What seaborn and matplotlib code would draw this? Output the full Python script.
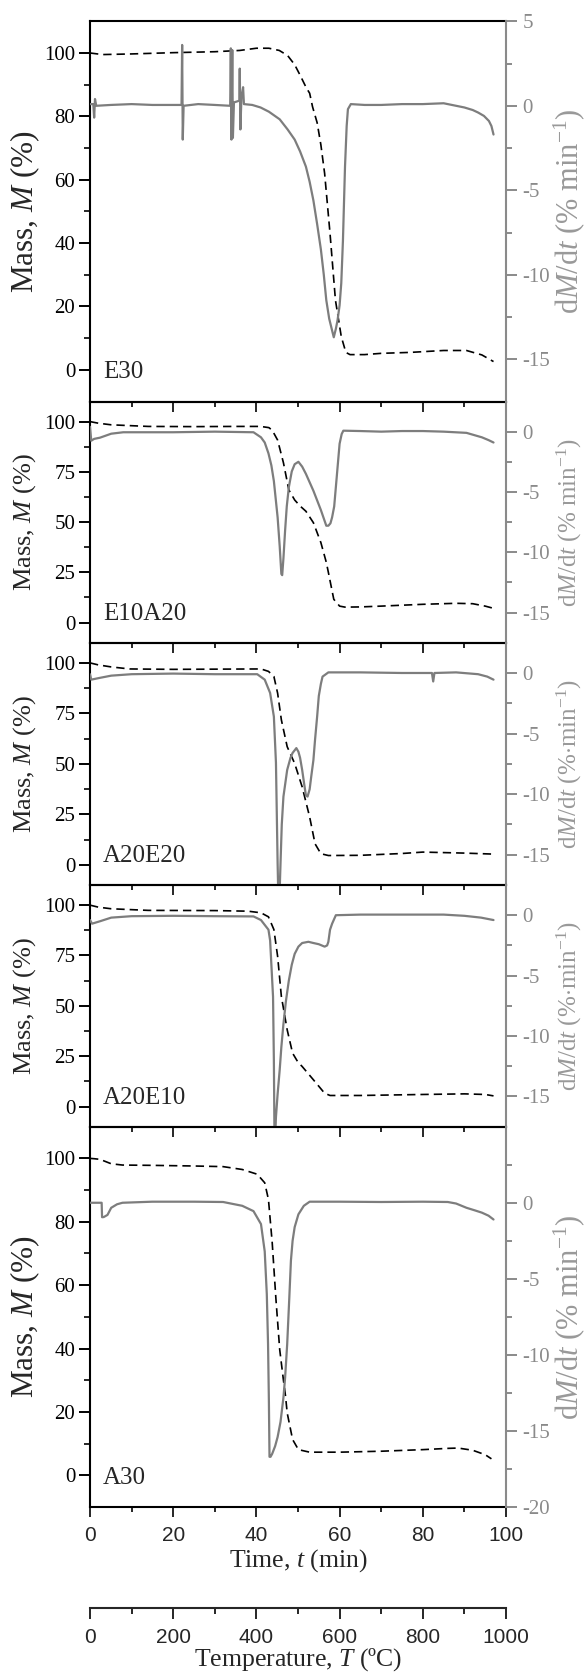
#importa as bibliotecas de graficos
import numpy as np
import pandas as pd
import seaborn as sns
import matplotlib.pyplot as plt
from matplotlib.ticker import FixedLocator, MultipleLocator

# nomes das amostras
samples = ["E30", "E10A20", "A20E20", "A20E10", "A30"]

# E30 - massa (%) e taxa (%/min)
t_mass_E30 = [0, 3, 10, 20, 30, 36, 40, 43, 45.5, 47.5, 49.2, 50.5, 52, 52.8, 53.5, 54.6,
              55.5, 56.4, 57.7, 59, 60.4, 61.5, 62.5, 66, 70, 77, 85, 90.5, 94.2, 97]
mass_E30 = [100, 99.5, 99.7, 100.1, 100.4, 100.8, 101.5, 101.5, 100.8, 99.2, 96.3, 93, 89,
            87.3, 83, 78, 71, 62, 43, 22, 10.5, 5.5, 4.8, 4.8, 5.2, 5.5, 6.1, 6.1, 4.7, 2.6]
t_rate_E30 = [0, 0.8, 1.0, 1.2, 1.5, 5, 10, 15, 20, 22.0, 22.15, 22.3, 22.5, 26, 30, 33.7,
              33.85, 34.0, 34.2, 34.35, 34.6, 35.9, 36.0, 36.15, 36.4, 36.8, 37.0, 39, 41, 43,
              45.6, 47.5, 49.2, 50.5, 51.9, 52.8, 53.7, 54.6, 55.5, 56.2, 56.8, 57.5, 58.2,
              58.6, 59.1, 59.5, 60.0, 60.4, 60.8, 61.3, 61.7, 62.0, 62.7, 66, 70, 75, 80, 85,
              88, 90, 92, 93.3, 94.7, 95.9, 96.5, 97]
rate_E30 = [0.1, 0.1, -0.7, 0.4, 0.0, 0.05, 0.1, 0.05, 0.05, 0.05, 3.6, -2.0, 0.0, 0.1, 0.05,
            0.0, 3.4, -2.0, 3.3, -1.9, 0.2, 0.3, 2.2, -1.4, 0.5, 1.1, 0.1, 0.05, -0.1, -0.35,
            -0.8, -1.4, -2.0, -2.7, -3.6, -4.5, -5.6, -7.0, -8.5, -10.0, -11.5, -12.6, -13.3,
            -13.7, -13.2, -12.7, -11.8, -10.5, -8.0, -3.6, -1.2, -0.2, 0.1, 0.05, 0.05, 0.1,
            0.1, 0.15, 0.0, -0.1, -0.25, -0.4, -0.6, -0.9, -1.2, -1.7]

# E10A20
t_mass_E10A20 = [0, 2, 5.1, 14, 25, 35, 41, 43, 43.8, 45.1, 46.5, 47.8, 49.2, 50.5, 51.9,
                 53.7, 55.5, 56.8, 57.3, 58.6, 60, 61.3, 65, 70, 80, 88, 92, 95, 97]
mass_E10A20 = [100, 99.2, 98.4, 97.6, 97.5, 97.6, 97.6, 97.0, 95.7, 90.8, 79.5, 66, 61, 58,
               55.4, 49.7, 39.8, 30, 25, 11.6, 8.2, 7.7, 7.8, 8.2, 9.1, 9.6, 9.4, 8.2, 7.1]
t_rate_E10A20 = [0, 0.3, 1.0, 2.4, 5.1, 8, 20, 30, 39.3, 41.1, 42.0, 42.9, 43.6, 44.2, 45.1,
                 45.6, 46.0, 46.2, 46.5, 46.9, 47.3, 47.8, 48.5, 49.2, 50.1, 51.0, 51.9, 52.8,
                 53.7, 54.6, 55.5, 56.2, 56.8, 57.3, 57.8, 58.2, 58.7, 59.1, 59.6, 60.0, 60.5,
                 60.9, 65, 70, 75, 80, 85, 90.5, 92.5, 94.2, 95.8, 97]
rate_E10A20 = [0.4, -0.75, -0.6, -0.5, -0.17, -0.05, -0.05, 0.0, -0.05, -0.47, -0.9, -1.8,
               -2.8, -4.1, -7.1, -9.5, -11.8, -11.9, -10.5, -8.2, -6.2, -4.6, -3.3, -2.7,
               -2.5, -2.9, -3.5, -4.2, -4.9, -5.7, -6.5, -7.2, -7.8, -7.8, -7.6, -7.1, -6.2,
               -4.6, -2.6, -1.0, -0.2, 0.08, 0.05, 0.0, 0.05, 0.05, 0.0, -0.1, -0.3, -0.47,
               -0.7, -0.9]

# A20E20
t_mass_A20E20 = [0, 2, 5.1, 9.5, 20, 30, 41.1, 42.9, 44.2, 45.1, 46, 47.4, 49.2, 51, 52.8,
                 54.1, 55.5, 57.3, 65, 75, 80, 90, 97]
mass_A20E20 = [100, 99, 98, 97, 96.8, 96.9, 97, 95.8, 93.3, 85, 71.8, 58.5, 50.2, 38.6, 23.7,
               10.4, 5.5, 4.6, 4.7, 5.6, 6.3, 5.8, 5.3]
t_rate_A20E20 = [0, 0.3, 2.4, 5.1, 10, 20, 30, 40.2, 42.0, 43.3, 44.2, 44.7, 45.1, 45.3, 45.5,
                 45.8, 46.1, 46.5, 47.4, 48.2, 48.7, 49.6, 50.1, 50.5, 51.0, 51.5, 51.9, 52.3,
                 52.8, 53.2, 53.7, 54.1, 54.6, 55.0, 55.5, 55.9, 57.3, 65, 75, 82.2, 82.5, 82.8,
                 88, 93.3, 95.5, 97]
rate_A20E20 = [-0.1, -0.55, -0.4, -0.22, -0.1, -0.05, -0.1, -0.1, -0.55, -1.65, -3.6, -7.4,
               -15.7, -19.0, -19.0, -15.7, -12.5, -10.2, -8.0, -7.0, -6.6, -6.2, -6.5, -7.0,
               -8.0, -9.2, -10.1, -10.2, -9.6, -8.5, -7.2, -5.5, -3.6, -1.9, -0.9, -0.3, 0.05,
               0.05, 0.0, 0.0, -0.7, 0.0, 0.05, -0.1, -0.3, -0.55]

# A20E10
t_mass_A20E10 = [0, 2, 5.1, 14, 30, 38, 41.1, 42.9, 44.2, 45.1, 46, 47.4, 48.7, 50, 51, 53.7,
                 56.4, 57.7, 65, 80, 90, 95, 97]
mass_A20E10 = [100, 99, 98.2, 97.4, 97.3, 97.0, 96.2, 94.2, 87.9, 74.6, 54.7, 38.1, 26.5, 22,
               19.9, 13.3, 6.6, 5.5, 5.5, 6.0, 6.3, 6.0, 5.3]
t_rate_A20E10 = [0, 0.5, 2.4, 5.1, 10, 20, 30, 39.3, 41.1, 42.9, 43.3, 44.0, 44.2, 44.35, 44.5,
                 44.7, 45.1, 45.6, 46.0, 46.5, 47.1, 47.8, 48.5, 49.2, 50.1, 51.0, 52.5, 53.7,
                 55, 56.4, 57.0, 57.3, 57.7, 58.2, 59.1, 65, 75, 85, 90, 94, 97]
rate_A20E10 = [-0.4, -0.7, -0.5, -0.2, -0.08, -0.05, -0.08, -0.1, -0.4, -1.2, -2.1, -6.75,
               -12.0, -18.5, -18.5, -16.7, -14.8, -12.8, -10.9, -9.0, -7.1, -5.4, -4.1, -3.2,
               -2.6, -2.3, -2.2, -2.3, -2.4, -2.6, -2.5, -2.2, -1.2, -0.7, 0.0, 0.05, 0.05,
               0.05, -0.05, -0.2, -0.4]

# A30
t_mass_A30 = [0, 1, 2.4, 5.1, 7.8, 15, 25, 32, 36.6, 40.2, 42, 42.9, 43.8, 44.7, 45.6, 46.5,
              47.0, 47.4, 48.7, 50.1, 52.8, 60, 70, 80, 86, 88.5, 92, 95, 96.5]
mass_A30 = [100, 99.9, 99.7, 98.3, 97.9, 97.8, 97.6, 97.4, 96.5, 95, 92.3, 87, 73.4, 55.5,
            39.7, 30, 25, 19.7, 11.3, 8.1, 7.3, 7.3, 7.6, 8.1, 8.5, 8.6, 7.9, 6.5, 5.2]
t_rate_A30 = [0, 2.8, 2.9, 3.3, 4.2, 5.1, 6.5, 7.8, 15, 25, 32, 36.6, 39.3, 41.1, 42.0, 42.5,
              42.8, 43.0, 43.15, 43.4, 43.8, 44.5, 45.1, 45.8, 46.5, 46.9, 47.4, 47.9, 48.3,
              48.7, 49.2, 50.1, 51.4, 52.8, 60, 70, 80, 86, 88, 90.5, 92.5, 94.2, 95.8, 97]
rate_A30 = [0.0, 0.0, -0.95, -0.94, -0.8, -0.33, -0.1, 0.0, 0.07, 0.07, 0.05, -0.2, -0.55,
            -1.4, -3.2, -6.0, -9.3, -13.0, -16.7, -16.7, -16.5, -16.0, -15.4, -14.4, -12.8,
            -11.5, -9.3, -6.3, -3.8, -2.5, -1.6, -0.76, -0.2, 0.07, 0.07, 0.05, 0.07, 0.05,
            -0.05, -0.33, -0.5, -0.65, -0.85, -1.1]

mass_t = [t_mass_E30, t_mass_E10A20, t_mass_A20E20, t_mass_A20E10, t_mass_A30]
mass_v = [mass_E30, mass_E10A20, mass_A20E20, mass_A20E10, mass_A30]
rate_t = [t_rate_E30, t_rate_E10A20, t_rate_A20E20, t_rate_A20E10, t_rate_A30]
rate_v = [rate_E30, rate_E10A20, rate_A20E20, rate_A20E10, rate_A30]

# rotulos do eixo direito
rate_labels = [r"d$M$/d$t$ (% min$^{-1}$)", r"d$M$/d$t$ (% min$^{-1}$)",
               r"d$M$/d$t$ (%$\cdot$min$^{-1}$)", r"d$M$/d$t$ (%$\cdot$min$^{-1}$)",
               r"d$M$/d$t$ (% min$^{-1}$)"]

# estilo
sns.set_style("ticks")
plt.rcParams['font.family'] = ['Liberation Serif', 'DejaVu Serif']
plt.rcParams['mathtext.fontset'] = 'custom'
plt.rcParams['mathtext.rm'] = 'Liberation Serif'
plt.rcParams['mathtext.it'] = 'Liberation Serif:italic'
plt.rcParams['axes.unicode_minus'] = False

gray = '#7d7d7d'
gray_ax = '#8a8a8a'
W, H = 585, 1673
fig = plt.figure(figsize=(W / 100, H / 100), dpi=100)
fig.patch.set_facecolor('white')

left, width = 90 / W, 416 / W
edges = [21.3, 401.5, 642.7, 885, 1126.7, 1507]

for i, name in enumerate(samples):
    top, bot = edges[i], edges[i + 1]
    big = i in (0, 4)
    ax = fig.add_axes([left, 1 - bot / H, width, (bot - top) / H])
    ax.patch.set_visible(False)
    ax2 = ax.twinx()

    # massa (tracejada)
    sns.lineplot(x=mass_t[i], y=mass_v[i], ax=ax, color='black', lw=1.2,
                 linestyle=(0, (5, 3)), estimator=None, sort=False)
    # taxa de perda de massa (cinza)
    sns.lineplot(x=rate_t[i], y=rate_v[i], ax=ax2, color=gray, lw=1.6,
                 estimator=None, sort=False)

    ax.set_xlim(0, 100)
    ax.set_ylim(-10, 110)
    if big:
        ax.yaxis.set_major_locator(FixedLocator([0, 20, 40, 60, 80, 100]))
        ax.yaxis.set_minor_locator(FixedLocator([10, 30, 50, 70, 90]))
    else:
        ax.yaxis.set_major_locator(FixedLocator([0, 25, 50, 75, 100]))
        ax.yaxis.set_minor_locator(FixedLocator([12.5, 37.5, 62.5, 87.5]))
    ax.xaxis.set_major_locator(MultipleLocator(20))
    ax.xaxis.set_minor_locator(MultipleLocator(10))

    if i == 0:
        ax2.set_ylim(-17.5, 5)
        ax2.yaxis.set_major_locator(FixedLocator([-15, -10, -5, 0, 5]))
        ax2.yaxis.set_minor_locator(FixedLocator([-12.5, -7.5, -2.5, 2.5]))
    elif i == 4:
        ax2.set_ylim(-20, 5)
        ax2.yaxis.set_major_locator(FixedLocator([-20, -15, -10, -5, 0]))
        ax2.yaxis.set_minor_locator(FixedLocator([-17.5, -12.5, -7.5, -2.5, 2.5]))
    else:
        ax2.set_ylim(-17.5, 2.5)
        ax2.yaxis.set_major_locator(FixedLocator([-15, -10, -5, 0]))
        ax2.yaxis.set_minor_locator(FixedLocator([-12.5, -7.5, -2.5]))

    ax.set_xlabel("")
    ax.set_ylabel("")
    ax2.set_ylabel("")

    for s in ['left', 'top', 'bottom']:
        ax.spines[s].set_linewidth(1.5)
        ax.spines[s].set_color('black')
        ax2.spines[s].set_visible(False)
    ax.spines['right'].set_visible(False)
    ax2.spines['right'].set_color(gray_ax)
    ax2.spines['right'].set_linewidth(1.5)

    ax.tick_params(axis='y', which='major', direction='out', length=7.7, width=1.4,
                   labelsize=15, pad=3, colors='black')
    ax.tick_params(axis='y', which='minor', direction='out', length=4, width=1.4)
    ax2.tick_params(axis='y', which='major', direction='out', length=7.7, width=1.4,
                    labelsize=15, pad=4, color=gray_ax, labelcolor=gray_ax)
    ax2.tick_params(axis='y', which='minor', direction='out', length=4, width=1.4,
                    color=gray_ax)
    ax.tick_params(axis='x', which='major', direction='out', length=7, width=1.4,
                   top=False, bottom=True, labelbottom=(i == 4), labelsize=15, pad=7,
                   labelfontfamily='Liberation Sans')
    ax.tick_params(axis='x', which='minor', direction='out', length=3.8, width=1.4,
                   top=False, bottom=True)

    # nome da amostra
    ax.annotate(name, xy=(0.031, 0), xycoords='axes fraction', xytext=(0, 21),
                textcoords='offset points', ha='left', va='center', fontsize=18)

    # rotulos dos eixos
    ymid = 1 - (top + bot) / 2 / H
    fig.text(25 / W, ymid, r"Mass, $M$ (%)", rotation=90, ha='center', va='center',
             fontsize=22.5 if big else 19)
    fig.text(569 / W, ymid, rate_labels[i], rotation=90, ha='center', va='center',
             fontsize=22 if big else 18, color='#999999')

fig.text((90 + 506) / 2 / W, 1 - 1561 / H, r"Time, $t$ (min)", ha='center', va='center',
         fontsize=18.5)

# eixo de temperatura
axT = fig.add_axes([left, 1 - 1608.3 / H, width, 0.0001])
axT.patch.set_visible(False)
axT.set_xlim(0, 1000)
axT.set_yticks([])
for s in ['left', 'top', 'right']:
    axT.spines[s].set_visible(False)
axT.spines['bottom'].set_linewidth(1.5)
axT.xaxis.set_major_locator(MultipleLocator(200))
axT.xaxis.set_minor_locator(MultipleLocator(100))
axT.tick_params(axis='x', which='major', direction='out', length=7.9, width=1.4,
                labelsize=15, pad=6, labelfontfamily='Liberation Sans')
axT.tick_params(axis='x', which='minor', direction='out', length=4, width=1.4)
fig.text((90 + 506) / 2 / W, 1 - 1660 / H, r"Temperature, $T$ (ºC)", ha='center',
         va='center', fontsize=18.5)

fig.savefig("out.png", dpi=100)
